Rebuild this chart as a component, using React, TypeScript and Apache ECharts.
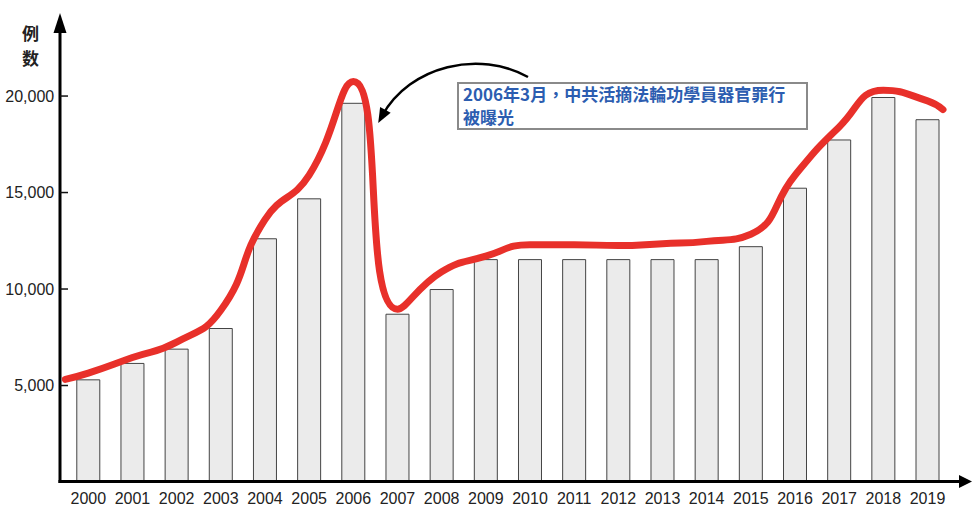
import React, { useEffect, useRef } from "react";
import * as echarts from "echarts";

const years = [
  "2000", "2001", "2002", "2003", "2004", "2005", "2006", "2007", "2008", "2009",
  "2010", "2011", "2012", "2013", "2014", "2015", "2016", "2017", "2018", "2019",
];
const caseCounts = [
  5320, 6170, 6910, 7980, 12630, 14700, 19650, 8720, 10000, 11550,
  11550, 11550, 11550, 11550, 11550, 12220, 15250, 17750, 19950, 18800,
];
// trend line: [year index, value]
const trendIndex = [-0.52, 0, 1, 2, 3, 4, 5, 6, 7, 8, 9, 10, 11, 12, 13, 14, 15, 16, 17, 18, 19, 19.35];
const trendValues = [
  5320, 5640, 6450, 7250, 8900, 13600, 15900, 20750, 8950, 10900, 11700,
  12300, 12300, 12250, 12350, 12470, 12840, 15900, 18400, 20300, 19750, 19300,
];
const yTicks = [5000, 10000, 15000, 20000];
const yName = "例\n数";
const noteText = "2006年3月，中共活摘法輪功學員器官罪行\n被曝光";

const latin = "'Liberation Sans', Arial, Helvetica, sans-serif";
const cjk = "'Noto Sans CJK TC', 'Noto Sans CJK SC', sans-serif";

export default function App() {
  const ref = useRef<HTMLDivElement>(null);
  useEffect(() => {
    if (!ref.current) return;
    const chart = echarts.init(ref.current, null, { renderer: "svg" });
    const dir = [-0.48, 0.877];
    const tip = [378.2, 123];
    const base = [tip[0] - 15 * dir[0], tip[1] - 15 * dir[1]];
    const perp = [0.877 * 6, 0.48 * 6];
    const staticGraphics: any[] = [
      { type: "line", z: 10, shape: { x1: 60, y1: 483, x2: 60, y2: 30 }, style: { stroke: "#000", lineWidth: 3 } },
      { type: "polygon", z: 10, shape: { points: [[53.5, 33], [60, 13], [66.5, 33]] }, style: { fill: "#000" } },
      { type: "line", z: 10, shape: { x1: 58.5, y1: 481.5, x2: 962, y2: 481.5 }, style: { stroke: "#000", lineWidth: 3 } },
      { type: "polygon", z: 10, shape: { points: [[959, 475], [972, 481.5], [959, 488]] }, style: { fill: "#000" } },
      {
        type: "text",
        z: 10,
        x: 22,
        y: 20,
        style: { text: yName, font: `bold 17px ${cjk}`, fill: "#222", lineHeight: 25, verticalAlign: "top" },
      },
      {
        type: "rect",
        z: 10,
        shape: { x: 458, y: 83, width: 349, height: 46 },
        style: { fill: "#fff", stroke: "#8a8a8a", lineWidth: 2 },
      },
      {
        type: "text",
        z: 11,
        x: 463,
        y: 82,
        style: { text: noteText, font: `bold 17px ${cjk}`, fill: "#2c5db0", lineHeight: 23, verticalAlign: "top" },
      },
      {
        type: "bezierCurve",
        z: 10,
        shape: { x1: 528, y1: 77, cpx1: 480, cpy1: 50, cpx2: 410, cpy2: 65, x2: 382, y2: 116 },
        style: { stroke: "#000", lineWidth: 2.5, fill: null },
      },
      {
        type: "polygon",
        z: 10,
        shape: {
          points: [
            [tip[0], tip[1]],
            [base[0] + perp[0], base[1] + perp[1]],
            [base[0] - perp[0], base[1] - perp[1]],
          ],
        },
        style: { fill: "#000" },
      },
    ];
    chart.setOption({
      animation: false,
      backgroundColor: "#ffffff",
      grid: { left: 66.2, right: 22.4, top: 15, bottom: 35 },
      xAxis: [
        {
          type: "category",
          data: years,
          axisLine: { show: false },
          axisTick: { show: false },
          axisLabel: { interval: 0, fontSize: 16, color: "#222", margin: 8, fontFamily: latin },
        },
        { type: "value", min: -0.5, max: 19.5, show: false },
      ],
      yAxis: {
        type: "value",
        min: 0,
        max: 24200,
        offset: 6,
        axisLine: { show: false },
        splitLine: { show: false },
        axisTick: { show: false },
        axisLabel: {
          customValues: yTicks,
          fontSize: 16,
          color: "#222",
          margin: 6,
          fontFamily: latin,
          formatter: (v: number) => v.toLocaleString("en-US"),
        },
      },
      series: [
        {
          type: "bar",
          data: caseCounts,
          barWidth: 24,
          itemStyle: { color: "#ebebeb", borderColor: "#444", borderWidth: 1 },
          z: 2,
        },
        {
          type: "line",
          xAxisIndex: 1,
          data: trendIndex.map((x, i) => [x, trendValues[i]]),
          smooth: 0.5,
          symbol: "none",
          clip: false,
          lineStyle: { color: "#e8302a", width: 7, cap: "round" },
          z: 5,
        },
      ],
      graphic: staticGraphics,
    });
    const tickGraphics = yTicks.map((v) => {
      const py = chart.convertToPixel({ yAxisIndex: 0 }, v) as number;
      return {
        type: "line",
        z: 10,
        shape: { x1: 60, y1: py, x2: 68, y2: py },
        style: { stroke: "#111", lineWidth: 1.5 },
      };
    });
    chart.setOption({ graphic: [...staticGraphics, ...tickGraphics] });
    return () => chart.dispose();
  }, []);
  return <div ref={ref} style={{ width: 972, height: 517, position: "absolute", left: 0, top: 0 }} />;
}
